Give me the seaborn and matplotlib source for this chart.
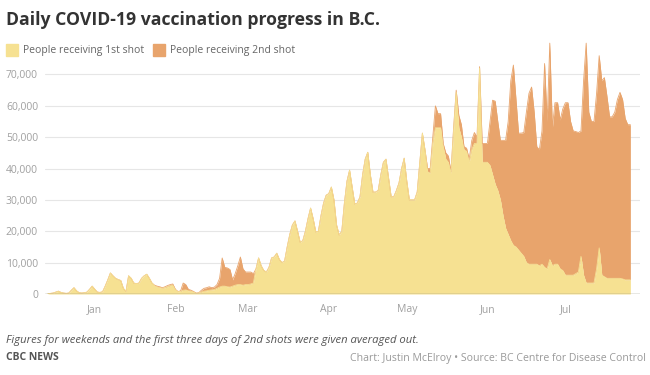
import numpy as np
import pandas as pd
import matplotlib
matplotlib.use("Agg")
import matplotlib.pyplot as plt
import matplotlib.dates as mdates
from matplotlib.patches import Rectangle
import seaborn as sns

# ---------------- data (daily, from 2020-12-14) ----------------
start_date = "2020-12-14"

first_dec = [100, 200, 300, 600, 900, 500, 300, 200, 300, 1200, 2000, 1000, 400, 300, 400, 600, 1500, 2500]
first_jan = [1500, 600, 500, 700, 2500, 4500, 6700, 5800, 5000, 4600, 4300, 1800, 800, 5800, 5000, 3500,
             3300, 3500, 5000, 5800, 6300, 5000, 3500, 2600, 2200, 2000, 1800, 2000, 2300, 2600, 2800]
first_feb = [1300, 700, 800, 1200, 1300, 1000, 900, 600, 200, 300, 600, 900, 1000, 1200, 1300, 1400,
             1800, 2200, 2500, 2500, 2300, 2200, 2500, 2800, 3000, 3000, 2800, 3000]
first_mar = [3000, 3200, 3500, 8000, 11500, 9000, 7500, 7000, 8500, 11500, 11800, 13000, 11000, 10000,
             10500, 15000, 19000, 22000, 23300, 20000, 16500, 17000, 20000, 24000, 27400, 24000, 19800,
             20000, 25000, 29000, 31500]
first_apr = [32000, 34100, 30000, 22000, 18800, 20000, 29000, 36000, 39500, 34000, 28700, 29000, 31000,
             38000, 43000, 45200, 38000, 32500, 32500, 33000, 38000, 42000, 43000, 37000, 31000, 31000,
             33000, 35400, 40000, 43300]
first_may = [36000, 30000, 30000, 30000, 32500, 42000, 51300, 46000, 39000, 38500, 48000, 53000, 53000,
             53000, 47000, 43000, 42000, 38500, 52000, 64300, 53000, 50000, 46000, 45500, 42000, 46000,
             48000, 48000, 72000, 42000, 42000]
first_jun = [42000, 41000, 38000, 35000, 33000, 30000, 25000, 21000, 19000, 17000, 15500, 15000, 14000,
             13000, 12000, 10000, 9500, 9500, 9500, 9500, 9000, 9500, 8500, 8000, 11000, 9000, 9500, 9500,
             8000, 7500]
first_jul = [6000, 6000, 6000, 6000, 6500, 7000, 12000, 6000, 3500, 3500, 3500, 3500, 8000, 14700, 6000,
             5500, 5000, 5000, 5000, 5000, 5000, 5000, 4800, 4500, 4500, 4500]

second_dec = [0] * 18
second_jan = [0] * 23 + [200, 300, 300, 200, 300, 400, 400, 400]
second_feb = [200, 100, 200, 2300, 1700, 500, 300, 200, 100, 100, 600, 900, 1000, 1100, 700, 800, 1200,
              2800, 9000, 6000, 6000, 5600, 2000, 3700, 6000, 8800, 5200, 4000]
second_mar = [4000, 3800, 3000] + [0] * 28
second_apr = [0] * 30
second_may = [0] * 8 + [1000, 1500, 2000, 7000, 4500, 4500, 1000, 2000, 2000, 500, 1000, 700, 4000, 4000,
                        1000, 1000, 1000, 3000, 3500, 2000, 500, 6000, 6000]
second_jun = [6000, 14000, 23800, 26500, 22000, 19000, 24000, 28000, 36000, 51000, 57500, 47000, 37300,
              38300, 39500, 48000, 54500, 56500, 48500, 37500, 37000, 42500, 65000, 47000, 69000, 44000,
              51500, 51500, 47500, 51500]
second_jul = [55000, 55000, 49000, 46000, 45300, 44500, 40000, 62000, 76500, 54500, 51500, 51500, 56000,
              61300, 62000, 63500, 58000, 51500, 51500, 53000, 57000, 59300, 57200, 51500, 49500, 49500]

y_ticks = [0, 10000, 20000, 30000, 40000, 50000, 60000, 70000]
month_labels = ["Jan", "Feb", "Mar", "Apr", "May", "Jun", "Jul"]
month_starts = ["2021-01-01", "2021-02-01", "2021-03-01", "2021-04-01", "2021-05-01", "2021-06-01", "2021-07-01"]

first = first_dec + first_jan + first_feb + first_mar + first_apr + first_may + first_jun + first_jul
second = second_dec + second_jan + second_feb + second_mar + second_apr + second_may + second_jun + second_jul
dates = pd.date_range(start_date, periods=len(first), freq="D")
df = pd.DataFrame({"date": dates, "first": first, "second": second})
df["total"] = df["first"] + df["second"]

# ---------------- style ----------------
sns.set_theme(style="white")
plt.rcParams["font.family"] = ["Open Sans", "DejaVu Sans"]

YELLOW = "#f6e192"
ORANGE = "#e8a46c"

fig = plt.figure(figsize=(6.5, 3.75), dpi=100)
ax = fig.add_axes([45 / 650, 1 - 294 / 375, 595 / 650, 254 / 375])

sns.lineplot(data=df, x="date", y="total", ax=ax, color=ORANGE, linewidth=0.6)
sns.lineplot(data=df, x="date", y="first", ax=ax, color=YELLOW, linewidth=0.6)
ax.fill_between(df["date"], df["first"], df["total"], color=ORANGE, linewidth=0)
ax.fill_between(df["date"], 0, df["first"], color=YELLOW, linewidth=0)

ax.set_ylim(0, 81000)
ax.set_xlim(pd.Timestamp(start_date) - pd.Timedelta(days=1.15),
            pd.Timestamp(start_date) + pd.Timedelta(days=227.7))

ax.set_yticks(y_ticks)
ax.set_yticklabels([f"{v:,}" for v in y_ticks])
ax.set_xticks(pd.to_datetime(month_starts))
ax.set_xticklabels(month_labels)
ax.tick_params(axis="both", length=0, labelsize=7.5, labelcolor="#a0a0a0")
ax.tick_params(axis="y", pad=5)
ax.tick_params(axis="x", pad=7)
ax.set_xlabel("")
ax.set_ylabel("")

for v in y_ticks[1:]:
    ax.axhline(v, color="#e6e6e6", linewidth=0.8, zorder=0)
ax.axhline(0, color="#8c8c7a", linewidth=1.0, zorder=5)
for s in ax.spines.values():
    s.set_visible(False)

# ---------------- texts ----------------
fig.text(6 / 650, 1 - 20 / 375, "Daily COVID-19 vaccination progress in B.C.",
         fontsize=12.7, fontweight="bold", color="#333333", va="center", ha="left")

fig.add_artist(Rectangle((6 / 650, 1 - 56 / 375), 12 / 650, 12 / 375,
                         transform=fig.transFigure, color=YELLOW))
fig.text(23 / 650, 1 - 50 / 375, "People receiving 1st shot", fontsize=7.5, color="#666666",
         va="center", ha="left")
fig.add_artist(Rectangle((153 / 650, 1 - 56 / 375), 12 / 650, 12 / 375,
                         transform=fig.transFigure, color=ORANGE))
fig.text(170 / 650, 1 - 50 / 375, "People receiving 2nd shot", fontsize=7.5, color="#666666",
         va="center", ha="left")

fig.text(6 / 650, 1 - 341 / 375,
         "Figures for weekends and the first three days of 2nd shots were given averaged out.",
         fontsize=8.1, style="italic", color="#555555", va="center", ha="left")
fig.text(6 / 650, 1 - 358 / 375, "CBC NEWS", fontsize=7.5, fontweight="bold", color="#555555",
         va="center", ha="left")
fig.text(646 / 650, 1 - 358 / 375, "Chart: Justin McElroy \u2022 Source: BC Centre for Disease Control",
         fontsize=7.6, color="#9a9a9a", va="center", ha="right")

fig.savefig("out.png", dpi=100, facecolor="white")
